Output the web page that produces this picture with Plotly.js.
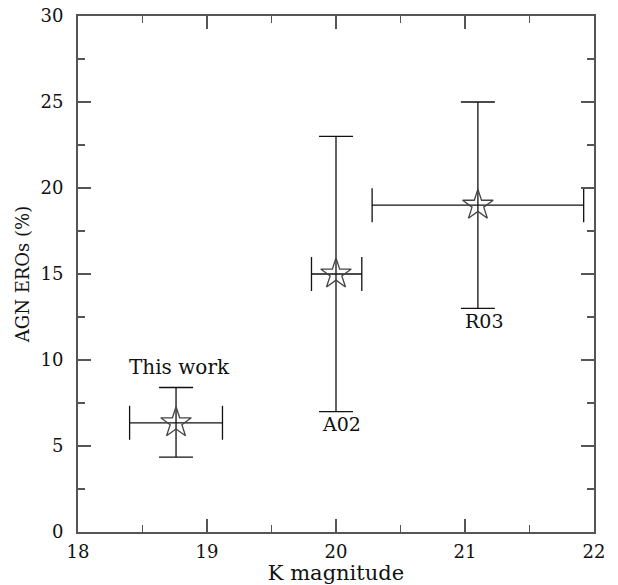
<!DOCTYPE html>
<html>
<head>
<meta charset="utf-8">
<script src="https://cdn.plot.ly/plotly-3.0.1.min.js"></script>
<style>html,body{margin:0;padding:0;background:#fff;}#chart{width:618px;height:585px;}</style>
</head>
<body>
<div id="chart"></div>
<script>
const labels = ["This work", "A02", "R03"];
const kMag = [18.76, 20.0, 21.1];
const agnFrac = [6.35, 15.0, 19.0];
const kErrMinus = [0.36, 0.19, 0.82];
const kErrPlus = [0.36, 0.20, 0.82];
const fracErrMinus = [2.0, 8.0, 6.0];
const fracErrPlus = [2.05, 8.0, 6.0];
const labelX = [18.79, 20.04, 21.15];
const labelY = [9.6, 6.3, 12.25];

const FONT = "'DejaVu Serif', 'Liberation Serif', serif";

const trace = {
  x: kMag, y: agnFrac, type: "scatter", mode: "markers",
  marker: {symbol: "star-open", size: 23, color: "#444", line: {width: 1.3, color: "#444"}},
  error_x: {type: "data", symmetric: false, array: kErrPlus, arrayminus: kErrMinus, color: "#111", thickness: 1.3, width: 17},
  error_y: {type: "data", symmetric: false, array: fracErrPlus, arrayminus: fracErrMinus, color: "#111", thickness: 1.3, width: 17},
  hoverinfo: "skip", showlegend: false
};

const annotations = labels.map((t, i) => ({
  x: labelX[i], y: labelY[i], xref: "x", yref: "y", text: t, showarrow: false,
  xanchor: "center", yanchor: "middle", font: {family: FONT, size: i === 0 ? 20 : 19, color: "#111"}
}));

const axisCommon = {
  showgrid: false, zeroline: false, showline: true, linecolor: "#555", linewidth: 2,
  mirror: "allticks", ticks: "inside", tickcolor: "#555", tickwidth: 1.5, ticklen: 13,
  tickfont: {family: FONT, size: 18, color: "#111"}
};

const layout = {
  width: 618, height: 585,
  margin: {l: 78, r: 24, t: 16, b: 53},
  paper_bgcolor: "#fff", plot_bgcolor: "#fff",
  font: {family: FONT},
  xaxis: Object.assign({}, axisCommon, {
    range: [18, 22], dtick: 1, tick0: 18, ticklabelstandoff: 2,
    minor: {dtick: 0.5, ticks: "inside", ticklen: 7, tickcolor: "#555", tickwidth: 1.5},
    title: {text: "K magnitude", font: {family: FONT, size: 21, color: "#111"}, standoff: 3}
  }),
  yaxis: Object.assign({}, axisCommon, {
    range: [0, 30], dtick: 5, tick0: 0, ticklabelstandoff: 9,
    minor: {dtick: 2.5, ticks: "inside", ticklen: 7, tickcolor: "#555", tickwidth: 1.5},
    title: {text: "AGN EROs (%)", font: {family: FONT, size: 18, color: "#111"}, standoff: 6}
  }),
  annotations: annotations
};

Plotly.newPlot("chart", [trace], layout, {displayModeBar: false, staticPlot: true});
</script>
</body>
</html>
